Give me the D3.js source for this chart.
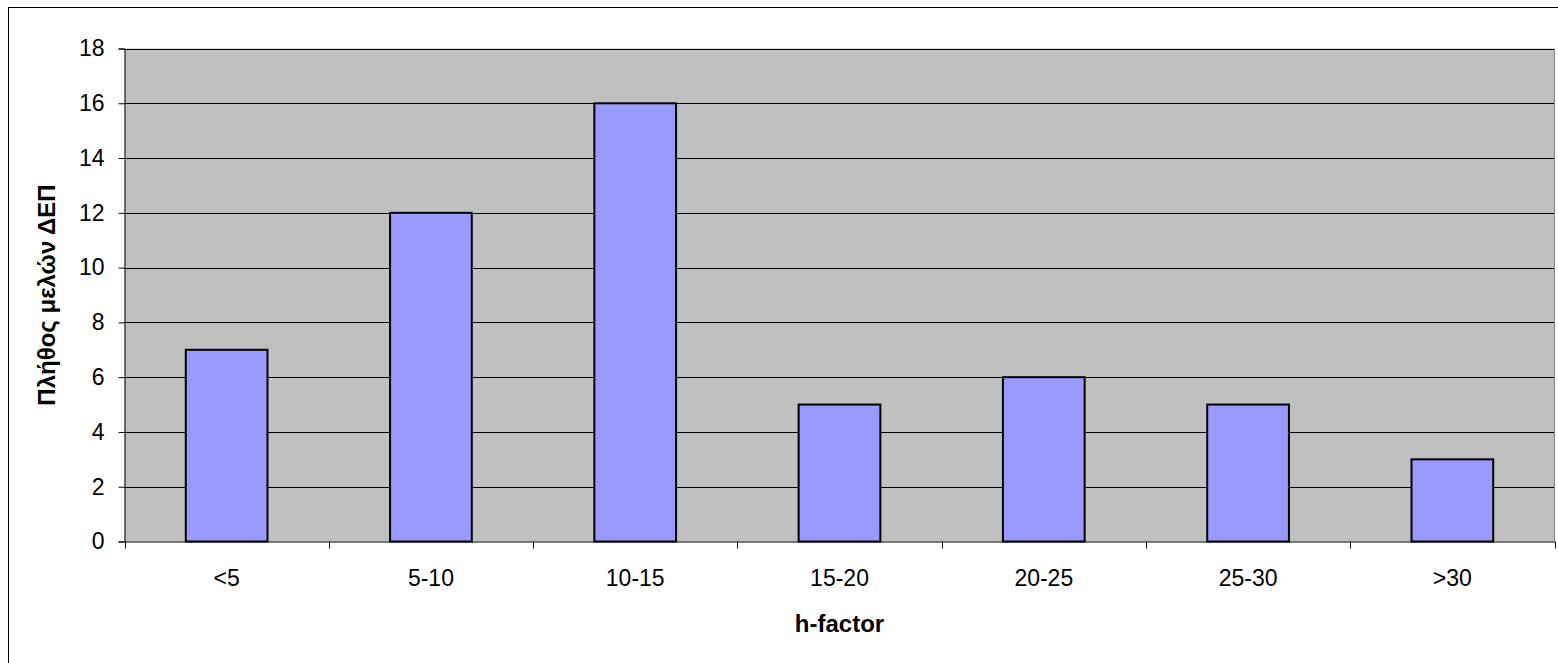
<!DOCTYPE html>
<html><head><meta charset="utf-8">
<script src="https://cdn.jsdelivr.net/npm/d3@7"></script>
<style>body{margin:0;background:#fff;} text{font-family:"Liberation Sans",Arial,sans-serif;}</style>
</head><body>
<svg id="c" width="1558" height="663"></svg>
<script>
const categories = ["<5","5-10","10-15","15-20","20-25","25-30",">30"];
const values = [7,12,16,5,6,5,3];
const yTicks = [0,2,4,6,8,10,12,14,16,18];

const svg = d3.select("#c");
const L=124.5, R=1554.5, T=48.5, B=541.5;

svg.append("rect").attr("x",8.5).attr("y",7.5).attr("width",1560).attr("height",670)
  .attr("fill","#fff").attr("stroke","#000").attr("stroke-width",1);

const x = d3.scaleBand().domain(categories).range([L,R]).paddingInner(0.6).paddingOuter(0.3);
const xOuter = d3.scaleBand().domain(categories).range([L,R]);
const y = d3.scaleLinear().domain([0,18]).range([B,T]);

svg.append("rect").attr("x",L).attr("y",T).attr("width",R-L).attr("height",B-T).attr("fill","#c0c0c0");

svg.append("g").selectAll("line").data(yTicks.filter(d=>d>0)).join("line")
  .attr("x1",L).attr("x2",R).attr("y1",d=>Math.round(y(d))+0.5).attr("y2",d=>Math.round(y(d))+0.5)
  .attr("stroke","#000").attr("stroke-width",1);
svg.append("line").attr("x1",R).attr("x2",R).attr("y1",T).attr("y2",B).attr("stroke","#808080");

svg.append("g").selectAll("rect").data(values).join("rect")
  .attr("x",(d,i)=>x(categories[i])).attr("width",x.bandwidth())
  .attr("y",d=>y(d)).attr("height",d=>B-y(d))
  .attr("fill","#9999ff").attr("stroke","#000").attr("stroke-width",2);

const yAxis = d3.axisLeft(y).tickValues(yTicks).tickSize(6).tickPadding(14);
const gy = svg.append("g").attr("transform",`translate(${L},0)`).call(yAxis);
gy.selectAll("text").style("font-size","23px").attr("fill","#000");
gy.selectAll("line").attr("stroke","#000");
gy.select(".domain").attr("stroke","#000");

const xAxis = d3.axisBottom(xOuter).tickSize(0).tickPadding(28);
const gx = svg.append("g").attr("transform",`translate(0,${B})`).call(xAxis);
gx.select(".domain").attr("stroke","#000");
gx.selectAll("text").style("font-size","23px").attr("fill","#000");
svg.append("g").selectAll("line").data(categories.concat(["end"])).join("line")
  .attr("x1",(d,i)=>Math.round(L+i*xOuter.step())+0.5).attr("x2",(d,i)=>Math.round(L+i*xOuter.step())+0.5)
  .attr("y1",B).attr("y2",B+7).attr("stroke","#000");

svg.append("text").attr("x",(L+R)/2).attr("y",632).attr("text-anchor","middle")
  .style("font-size","24px").style("font-weight","bold").text("h-factor");
svg.append("text").attr("transform",`translate(55,${(T+B)/2}) rotate(-90)`).attr("text-anchor","middle")
  .style("font-size","24px").style("font-weight","bold").text("Πλήθος μελών ΔΕΠ");
</script>
</body></html>
